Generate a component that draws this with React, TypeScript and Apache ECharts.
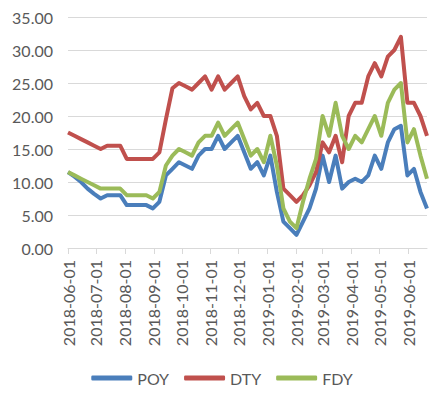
import React, { useEffect, useRef } from "react";
import * as echarts from "echarts";

const dates = [
  "2018-06-01", "2018-06-08", "2018-06-15", "2018-06-22", "2018-06-29",
  "2018-07-06", "2018-07-13", "2018-07-20", "2018-07-27",
  "2018-08-03", "2018-08-10", "2018-08-17", "2018-08-24", "2018-08-31",
  "2018-09-07", "2018-09-14", "2018-09-21", "2018-09-28",
  "2018-10-05", "2018-10-12", "2018-10-19", "2018-10-26",
  "2018-11-02", "2018-11-09", "2018-11-16", "2018-11-23", "2018-11-30",
  "2018-12-07", "2018-12-14", "2018-12-21", "2018-12-28",
  "2019-01-04", "2019-01-11", "2019-01-18", "2019-01-25",
  "2019-02-01", "2019-02-08", "2019-02-15", "2019-02-22",
  "2019-03-01", "2019-03-08", "2019-03-15", "2019-03-22", "2019-03-29",
  "2019-04-05", "2019-04-12", "2019-04-19", "2019-04-26",
  "2019-05-03", "2019-05-10", "2019-05-17", "2019-05-24", "2019-05-31",
  "2019-06-07", "2019-06-14", "2019-06-21",
];

const poy = [
  11.5, 10.8, 10.0, 9.0, 8.2,
  7.5, 8.0, 8.0, 8.0,
  6.5, 6.5, 6.5, 6.5, 6.0,
  7.0, 11.0, 12.0, 13.0,
  12.5, 12.0, 14.0, 15.0,
  15.0, 17.0, 15.0, 16.0, 17.0,
  14.5, 12.0, 13.0, 11.0,
  14.0, 8.5, 4.0, 3.0,
  2.0, 4.0, 6.0, 9.0,
  14.0, 10.0, 14.0, 9.0, 10.0,
  10.5, 10.0, 11.0, 14.0,
  12.0, 16.0, 18.0, 18.5, 11.0,
  12.0, 8.5, 6.0,
];

const dty = [
  17.5, 17.0, 16.5, 16.0, 15.5,
  15.0, 15.5, 15.5, 15.5,
  13.5, 13.5, 13.5, 13.5, 13.5,
  14.5, 19.5, 24.2, 25.0,
  24.5, 24.0, 25.0, 26.0,
  24.0, 26.0, 24.0, 25.0, 26.0,
  23.0, 21.0, 22.0, 20.0,
  20.0, 17.0, 9.0, 8.0,
  7.0, 8.0, 9.5, 11.5,
  16.0, 14.5, 17.0, 13.0, 20.0,
  22.0, 22.0, 26.0, 28.0,
  26.0, 29.0, 30.0, 32.0, 22.0,
  22.0, 20.0, 17.0,
];

const fdy = [
  11.5, 11.0, 10.5, 10.0, 9.5,
  9.0, 9.0, 9.0, 9.0,
  8.0, 8.0, 8.0, 8.0, 7.5,
  8.5, 12.5, 14.0, 15.0,
  14.5, 14.0, 16.0, 17.0,
  17.0, 19.0, 17.0, 18.0, 19.0,
  16.5, 14.0, 15.0, 13.0,
  17.0, 12.5, 6.0, 4.0,
  3.0, 7.0, 10.5, 13.5,
  20.0, 17.0, 22.0, 17.0, 15.0,
  17.0, 16.0, 18.0, 20.0,
  17.0, 22.0, 24.0, 25.0, 16.0,
  18.0, 14.0, 10.5,
];

const monthTicks = [
  "2018-06-01", "2018-07-01", "2018-08-01", "2018-09-01", "2018-10-01",
  "2018-11-01", "2018-12-01", "2019-01-01", "2019-02-01", "2019-03-01",
  "2019-04-01", "2019-05-01", "2019-06-01",
];

const yTicks = [0, 5, 10, 15, 20, 25, 30, 35];

const seriesNames = ["POY", "DTY", "FDY"];
const seriesColors = ["#4A7EBB", "#C0504D", "#9BBB59"];

const ts = (s: string) => {
  const [y, m, d] = s.split("-").map(Number);
  return Date.UTC(y, m - 1, d);
};

const fmt = (v: number) => {
  const d = new Date(v);
  const mm = String(d.getUTCMonth() + 1).padStart(2, "0");
  const dd = String(d.getUTCDate()).padStart(2, "0");
  return `${d.getUTCFullYear()}-${mm}-${dd}`;
};

export default function App() {
  const ref = useRef<HTMLDivElement>(null);
  useEffect(() => {
    document.body.style.margin = "0";
    if (!ref.current) return;
    const chart = echarts.init(ref.current, undefined, { renderer: "svg" });
    const font = "Lato, 'Open Sans', sans-serif";
    const tickVals = monthTicks.map(ts);
    const all = [poy, dty, fdy];
    chart.setOption({
      animation: false,
      textStyle: { fontFamily: font },
      grid: { left: 68, right: 17, top: 17, bottom: 145 },
      legend: {
        top: 365,
        left: "center",
        icon: "roundRect",
        itemWidth: 41,
        itemHeight: 5,
        itemGap: 15,
        textStyle: { fontSize: 16, color: "#595959", fontFamily: font },
        data: seriesNames,
      },
      xAxis: {
        type: "value",
        min: ts(dates[0]),
        max: ts(dates[dates.length - 1]),
        axisLine: { show: true, lineStyle: { color: "#D9D9D9", width: 1 } },
        axisTick: {
          show: true,
          length: 6,
          customValues: tickVals,
          lineStyle: { color: "#D9D9D9" },
        },
        axisLabel: {
          customValues: tickVals,
          rotate: 90,
          margin: 12,
          fontSize: 16,
          color: "#595959",
          fontFamily: font,
          formatter: (v: number) => fmt(v),
        },
        splitLine: { show: false },
      },
      yAxis: {
        type: "value",
        min: yTicks[0],
        max: yTicks[yTicks.length - 1],
        interval: 5,
        axisLine: { show: false },
        axisTick: { show: false },
        axisLabel: {
          margin: 15,
          fontSize: 16,
          color: "#595959",
          fontFamily: font,
          formatter: (v: number) => v.toFixed(2),
        },
        splitLine: { lineStyle: { color: "#D9D9D9", width: 1 } },
      },
      series: seriesNames.map((name, k) => ({
        name,
        type: "line",
        symbol: "none",
        data: dates.map((d, i) => [ts(d), all[k][i]]),
        lineStyle: { width: 4, color: seriesColors[k], join: "round" },
        itemStyle: { color: seriesColors[k] },
      })),
    });
    return () => chart.dispose();
  }, []);
  return <div ref={ref} style={{ width: 444, height: 393 }} />;
}
